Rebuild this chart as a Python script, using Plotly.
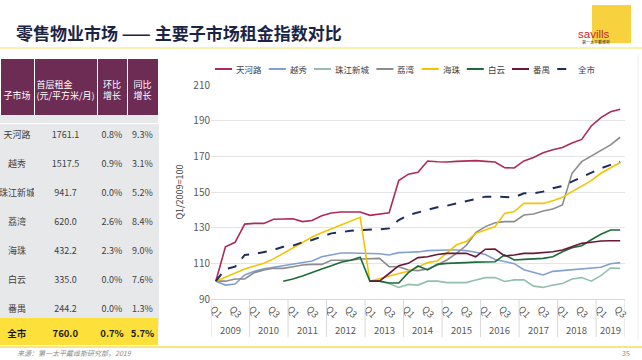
import plotly.graph_objects as go

W, H = 642, 360
FONT = "Noto Sans CJK SC"

# ---------------- data ----------------
years = ["2009", "2010", "2011", "2012", "2013", "2014", "2015", "2016", "2017", "2018", "2019"]
quarters_per_year = [4, 4, 4, 4, 4, 4, 4, 4, 4, 4, 3]
quarter_tick_labels = ["Q1", "Q3"]

tianhelu = [100, 119.3, 121.8, 132, 132.4, 132.4, 134.7, 134.7, 135, 133.4, 134, 136.7, 138.2, 138.8, 138.8,
            138.8, 136.9, 137.5, 138.4, 156.4, 160, 161, 167.4, 167, 166.8, 167.2, 167.6, 167.6, 167.2, 166.8,
            163.6, 163.5, 167.4, 169.3, 172, 173.7, 174.9, 177.5, 179.5, 187, 191.7, 195, 196.4]
yuexiu = [100, 97.8, 98.4, 103.5, 105.5, 107, 107.8, 108.7, 109.8, 110.6, 111.3, 113.7, 114.7, 115.8, 115.8,
          115.8, 115.4, 115.4, 114.7, 116, 116.2, 116.4, 117.1, 117.5, 117.5, 117.5, 117.1, 116.2, 114.9, 112.2,
          110.9, 109.8, 106.4, 104.8, 103.5, 105.5, 105.9, 106.6, 107, 107.4, 107.8, 109.8, 110.4]
zhujiang = [None] * 16 + [100, 100, 98.7, 96.5, 98.2, 97.8, 100, 100, 99.2, 99.2, 99.2, 100.7, 102, 102, 99.8,
                          100.7, 100.7, 97.2, 96.5, 97.8, 98.7, 101.2, 102, 100, 103.1, 107.4, 107.2]
liwan = [100, 100, 101.2, 101.2, 104.8, 106.3, 107.2, 107.2, 108.1, 109.1, 109.4, 109.4, 111.7, 111.7, 111.7,
         112.4, 112.8, 112.8, 108.1, 108.1, 106.3, 105.9, 106.8, 109.1, 111.9, 115.6, 120, 127.2, 130.6, 132.8,
         133.4, 133.4, 137.1, 137.7, 139.3, 140.5, 142.7, 160.5, 167, 170.2, 173.6, 176.4, 180.7]
haizhu = [100, 102.4, 104.6, 106.8, 108.5, 110, 112.5, 115.6, 119, 122.1, 124.8, 127.2, 129.4, 131.5, 133.6,
          135.8, 100, 101.5, 103, 104.3, 105.5, 108.1, 110.4, 111.3, 115.6, 120.4, 122.2, 126.8, 128.7, 130.6,
          138, 139, 143.6, 143.6, 143.6, 145.1, 147, 150.2, 153.4, 156.4, 160.5, 163.3, 166.5]
baiyun = [None] * 7 + [100, 101.2, 102.9, 105, 106.8, 108.7, 110.6, 111.7, 113.4, 100, 100, 99, 99, 104.8, 108.5,
                       106.3, 109.4, 110, 110.4, 110.4, 110.7, 110.9, 110.9, 114.7, 111.9, 112.2, 112.4, 112.8,
                       113.7, 116.5, 118.8, 119.9, 123.2, 126.3, 128.7, 128.7]
panyu = [None] * 16 + [100, 100, 104.3, 108.7, 110, 113.2, 113.7, 115, 115.6, 115.6, 115.6, 113.7, 117.9, 118,
                       114.1, 114.7, 115.6, 115.6, 116, 116.5, 117.5, 119.3, 121.2, 121.8, 122.5, 122.7, 122.7]
quanshi = [100, 106.8, 108.1, 114.7, 115.2, 116.5, 117.5, 119.3, 119.9, 121.8, 123.1, 125, 126.8, 127.4, 128.3,
           128.7, 128.7, 129.1, 129.6, 134.3, 137.1, 138.6, 139.9, 141.4, 142.3, 143.6, 145, 146.1, 147.4, 147.4,
           147.4, 147, 149.3, 149.3, 150.2, 152.1, 153.4, 155.8, 158.6, 160.9, 163.3, 165.2, 167]

series_names = ["天河路", "越秀", "珠江新城", "荔湾", "海珠", "白云", "番禺", "全市"]
series_values = [tianhelu, yuexiu, zhujiang, liwan, haizhu, baiyun, panyu, quanshi]

# table data
table_header = ["子市场", "首层租金<br>(元/平方米/月)", "环比<br>增长", "同比<br>增长"]
table_markets = ["天河路", "越秀", "珠江新城", "荔湾", "海珠", "白云", "番禺"]
table_rent = ["1761.1", "1517.5", "941.7", "620.0", "432.2", "335.0", "244.2"]
table_qoq = ["0.8%", "0.9%", "0.0%", "2.6%", "2.3%", "0.0%", "0.0%"]
table_yoy = ["9.3%", "3.1%", "5.2%", "8.4%", "9.0%", "7.6%", "1.3%"]
total_row = ["全市", "760.0", "0.7%", "5.7%"]

# ---------------- styles ----------------
colors = ["#ad2a5b", "#829fd1", "#93c0ae", "#8c8c8c", "#f5c400", "#1e6b3a", "#6b1836", "#1f2d5c"]
dashes = ["solid"] * 7 + ["dash"]
BODY_GRAY = "#e7e8ea"
HEAD_PURPLE = "#6c2c54"


def px_x(p):
    return p / W


def px_y(p):
    return 1 - p / H


n = len(tianhelu)
x_idx = list(range(n))

fig = go.Figure()

for name, vals, c, d in zip(series_names, series_values, colors, dashes):
    fig.add_trace(go.Scatter(
        x=x_idx, y=vals, name=name, mode="lines",
        line=dict(color=c, width=2 if d == "dash" else 1.6, dash=d),
        connectgaps=False, hoverinfo="skip", showlegend=False,
    ))

# tables
col_widths = [34, 63, 30, 31]
FILLER = "<span style='color:%s'>.</span>" % HEAD_PURPLE


def header_text(t):
    # invisible filler lines push header text toward the vertical centre of the tall header cell
    return (FILLER + "<br>" + t) if "<br>" in t else (FILLER + "<br>" + FILLER + "<br>" + t)


fig.add_trace(go.Table(
    domain=dict(x=[0, px_x(158)], y=[0, px_y(58)]),
    columnwidth=col_widths,
    header=dict(values=[header_text(t) for t in table_header], fill_color=HEAD_PURPLE,
                line=dict(color="#ffffff", width=1),
                align="center", height=65,
                font=dict(family=FONT, size=9, color="#ffffff")),
    cells=dict(values=[table_markets, table_rent, table_qoq, table_yoy],
               fill_color=BODY_GRAY, line=dict(color=BODY_GRAY, width=1),
               align="center", height=29,
               font=dict(family=FONT, size=9, color="#404040")),
))
# total row
fig.add_trace(go.Table(
    domain=dict(x=[0, px_x(158)], y=[px_y(345), px_y(318)]),
    columnwidth=col_widths,
    header=dict(values=["<b>%s</b>" % v for v in total_row], fill_color="#fde13a",
                line=dict(color="#fde13a", width=0), align="center", height=21,
                font=dict(family=FONT, size=9.5, color="#1a1a1a")),
    cells=dict(values=[[], [], [], []], height=0),
))

# x ticks
tickvals = list(range(0, n, 2))
ticktext = [quarter_tick_labels[(i // 2) % 2] for i in tickvals]

fig.update_layout(
    width=W, height=H,
    margin=dict(l=0, r=0, t=0, b=0, pad=0, autoexpand=False),
    paper_bgcolor="#ffffff", plot_bgcolor="#ffffff",
    font=dict(family=FONT, size=10, color="#595959"),
    showlegend=False,
    xaxis=dict(domain=[px_x(211), px_x(625)], range=[-0.5, n - 0.5],
               tickvals=tickvals, ticktext=ticktext, tickangle=45, ticklabelshift=-3,
               showgrid=False, zeroline=False, showline=True, linecolor="#d9d9d9", linewidth=1,
               ticks="", tickfont=dict(family=FONT, size=9.5, color="#595959")),
    yaxis=dict(domain=[px_y(299), px_y(85)], range=[90, 210], dtick=20, tick0=90,
               showgrid=True, gridcolor="#e4e4e4", zeroline=False, showline=False, ticks="",
               tickfont=dict(family=FONT, size=10, color="#595959"),
               title=dict(text="Q1/2009=100", font=dict(family=FONT, size=9, color="#404040"), standoff=8)),
)

shapes = []
annotations = []

# legend (drawn manually so the short sample lines match the original)
lx = 215
ly = px_y(69)
for name, c, d in zip(series_names, colors, dashes):
    shapes.append(dict(type="line", xref="paper", yref="paper", x0=px_x(lx), x1=px_x(lx + 17),
                       y0=ly, y1=ly, line=dict(color=c, width=2, dash="dash" if d == "dash" else "solid")))
    annotations.append(dict(xref="paper", yref="paper", x=px_x(lx + 19), y=ly, xanchor="left",
                            yanchor="middle", text=name, showarrow=False,
                            font=dict(family=FONT, size=8.5, color="#404040")))
    lx += 19 + 8.6 * len(name) + 9

# year dividers and labels
start = 0
for yr, q in zip(years, quarters_per_year):
    shapes.append(dict(type="line", xref="x", yref="paper", x0=start - 0.5, x1=start - 0.5,
                       y0=px_y(337), y1=px_y(299), line=dict(color="#d9d9d9", width=1)))
    annotations.append(dict(xref="x", yref="paper", x=start + (q - 1) / 2, y=px_y(330), text=yr,
                            yanchor="middle", showarrow=False,
                            font=dict(family=FONT, size=9.5, color="#595959")))
    start += q
shapes.append(dict(type="line", xref="x", yref="paper", x0=start - 0.5, x1=start - 0.5,
                   y0=px_y(337), y1=px_y(299), line=dict(color="#d9d9d9", width=1)))

# slide decorations
shapes += [
    dict(type="line", xref="paper", yref="paper", x0=0, x1=1, y0=px_y(48), y1=px_y(48),
         line=dict(color="#fbf0b0", width=2)),
    dict(type="line", xref="paper", yref="paper", x0=0, x1=1, y0=px_y(347), y1=px_y(347),
         line=dict(color="#f8e585", width=2)),
    dict(type="line", xref="paper", yref="paper", x0=px_x(638), x1=px_x(638), y0=px_y(340), y1=px_y(55),
         line=dict(color="#ececec", width=1)),
    dict(type="rect", xref="paper", yref="paper", x0=px_x(592), x1=px_x(631), y0=px_y(43), y1=px_y(5),
         fillcolor="#f7d13e", line=dict(width=0)),
]
annotations += [
    # light strip separating the header block from the body rows
    dict(xref="paper", yref="paper", x=0, y=px_y(115), xanchor="left", yanchor="top",
         text=" ", showarrow=False, width=158, height=8, bgcolor=BODY_GRAY, borderpad=0,
         borderwidth=0, font=dict(size=1)),
    dict(xref="paper", yref="paper", x=px_x(14), y=px_y(32), xanchor="left", yanchor="middle",
         text="<b>零售物业市场 —— 主要子市场租金指数对比</b>", showarrow=False,
         font=dict(family=FONT, size=17, color="#1b2444")),
    dict(xref="paper", yref="paper", x=px_x(611.5), y=px_y(26), text="savills", showarrow=False,
         font=dict(family="Liberation Sans", size=11.5, color="#c3282f")),
    dict(xref="paper", yref="paper", x=px_x(611.5), y=px_y(37.5), text="第一太平戴维斯", showarrow=False,
         font=dict(family=FONT, size=4, color="#333333")),
    dict(xref="paper", yref="paper", x=px_x(15), y=px_y(352.5), xanchor="left", yanchor="middle",
         text="<i>来源：第一太平戴维斯研究部，2019</i>", showarrow=False,
         font=dict(family=FONT, size=7, color="#8c8c8c")),
    dict(xref="paper", yref="paper", x=px_x(632), y=px_y(353), xanchor="right", yanchor="middle",
         text="35", showarrow=False, font=dict(family=FONT, size=7, color="#8c8c8c")),
]

fig.update_layout(shapes=shapes, annotations=annotations)

fig.write_html("out.html", config={"displayModeBar": False},
               post_script="document.body.style.margin='0px';document.body.style.padding='0px';")
